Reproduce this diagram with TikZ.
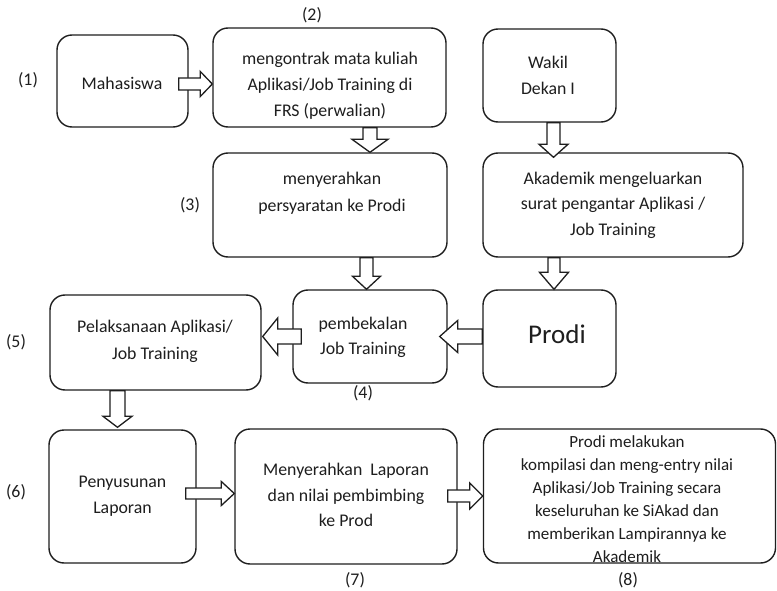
\documentclass[tikz,border=0pt]{standalone}
\usepackage{fontspec}
\setmainfont{Carlito}
\usetikzlibrary{calc}
\definecolor{ink}{HTML}{1E1E1E}
\tikzset{
  box/.style={draw=ink, line width=1.4pt, rounded corners=15pt, fill=white, inner sep=0pt},
  txt/.style={text=ink, align=center, inner sep=0pt, font=\fontsize{17.8}{25.5}\selectfont},
  lbl/.style={text=ink, inner sep=0pt, font=\fontsize{17.8}{22}\selectfont},
  blk/.style={draw=ink, line width=1.3pt, fill=white, line join=miter}
}
% right / left / down block arrows: #1 start, #2 tip, #3 shaft half, #4 head half, #5 head length
\newcommand\rarr[5]{\draw[blk] let \p1=#1, \p2=#2 in (\x1,\y2+#3) -- (\x2-#5,\y2+#3) -- (\x2-#5,\y2+#4) -- (\x2,\y2) -- (\x2-#5,\y2-#4) -- (\x2-#5,\y2-#3) -- (\x1,\y2-#3) -- cycle;}
\newcommand\larr[5]{\draw[blk] let \p1=#1, \p2=#2 in (\x1,\y2+#3) -- (\x2+#5,\y2+#3) -- (\x2+#5,\y2+#4) -- (\x2,\y2) -- (\x2+#5,\y2-#4) -- (\x2+#5,\y2-#3) -- (\x1,\y2-#3) -- cycle;}
\newcommand\darr[5]{\draw[blk] let \p1=#1, \p2=#2 in (\x2+#3,\y1) -- (\x2+#3,\y2+#5) -- (\x2+#4,\y2+#5) -- (\x2,\y2) -- (\x2-#4,\y2+#5) -- (\x2-#3,\y2+#5) -- (\x2-#3,\y1) -- cycle;}
\begin{document}
\begin{tikzpicture}[x=1pt,y=-1pt]
\useasboundingbox[fill=white] (0,0) rectangle (777,591);
% boxes
\node[box, minimum width=131pt, minimum height=92pt] (b1) at (122.5,81) {};
\node[box, minimum width=233pt, minimum height=99pt] (b2) at (329.5,77.5) {};
\node[box, minimum width=133pt, minimum height=93pt] (bW) at (549.5,75.5) {};
\node[box, minimum width=234pt, minimum height=104pt] (b3) at (330,205) {};
\node[box, minimum width=260pt, minimum height=104pt] (bA) at (613,205) {};
\node[box, minimum width=133pt, minimum height=97pt] (bP) at (549.5,338.5) {};
\node[box, minimum width=154pt, minimum height=93pt] (b4) at (370,336.5) {};
\node[box, minimum width=211pt, minimum height=95pt] (b5) at (155.5,342.5) {};
\node[box, minimum width=147pt, minimum height=133pt] (b6) at (122.5,496.5) {};
\node[box, minimum width=222pt, minimum height=135pt] (b7) at (346,496.5) {};
\node[box, minimum width=292pt, minimum height=134pt] (b8) at (629.5,496) {};
% texts
\node[txt] (t1) at (122,83) {Mahasiswa};
\node[txt, font=\fontsize{17.8}{26}\selectfont] (t2) at (330,86) {mengontrak mata kuliah\\Aplikasi/Job Training di\\FRS (perwalian)};
\node[txt] (tW) at (548,75.5) {Wakil\\Dekan I};
\node[txt, font=\fontsize{17.8}{27}\selectfont] (t3) at (332,193.5) {menyerahkan\\persyaratan ke Prodi};
\node[txt] (tA) at (613,205) {Akademik mengeluarkan\\surat pengantar Aplikasi /\\Job Training};
\node[txt, font=\fontsize{27}{30}\selectfont] (tP) at (557,334) {Prodi};
\node[txt] (t4) at (363,337.5) {pembekalan\\Job Training};
\node[txt, font=\fontsize{17.8}{27}\selectfont] (t5) at (155,341) {Pelaksanaan Aplikasi/\\Job Training};
\node[txt, font=\fontsize{17.8}{26}\selectfont] (t6) at (122.5,496) {Penyusunan\\Laporan};
\node[txt] (t7) at (346,495) {Menyerahkan\ \ Laporan\\dan nilai pembimbing\\ke Prod};
\node[txt, font=\fontsize{17}{23}\selectfont] (t8) at (627,499.5) {Prodi melakukan\\kompilasi dan meng-entry nilai\\Aplikasi/Job Training secara\\keseluruhan ke SiAkad dan\\memberikan Lampirannya ke\\Akademik};
% labels
\node[lbl] (l1) at (28,80) {(1)};
\node[lbl] (l2) at (312,15) {(2)};
\node[lbl] (l3) at (190,205) {(3)};
\node[lbl] (l4) at (363,393) {(4)};
\node[lbl] (l5) at (16,342) {(5)};
\node[lbl] (l6) at (16,492) {(6)};
\node[lbl] (l7) at (355,580) {(7)};
\node[lbl] (l8) at (628,580) {(8)};
% block arrows
\rarr{($(b1.east)+(-10,0)$)}{($(b2.west)+(0,6.5)$)}{6pt}{12.5pt}{12pt}
\darr{($(b2.south)+(40,0)$)}{($(b3.north)+(40,0)$)}{7pt}{18pt}{13pt}
\darr{($(bW.south)+(4,0)$)}{($(bA.north)+(-59.5,5)$)}{6.5pt}{14.5pt}{13pt}
\darr{($(bA.south)+(-59,0)$)}{($(bP.north)+(4.5,0)$)}{6pt}{14.5pt}{17pt}
\darr{($(b3.south)+(36.5,0)$)}{($(b4.north)+(-3.5,0)$)}{6.5pt}{14pt}{13pt}
\larr{(bP.west)}{($(b4.east)+(-8,0)$)}{7.5pt}{16pt}{18pt}
\larr{($(b4.west)+(9,0)$)}{($(b5.east)+(1,-6)$)}{7.5pt}{18.5pt}{15pt}
\darr{($(b5.south)+(-38,0)$)}{($(b6.north)+(-5,-2)$)}{7.5pt}{14.5pt}{11pt}
\rarr{($(b6.east)+(-11,0)$)}{($(b7.west)+(0,-3)$)}{5.5pt}{12pt}{13pt}
\rarr{($(b7.east)+(-10,0)$)}{(b8.west)}{6pt}{13pt}{13pt}
\end{tikzpicture}
\end{document}
